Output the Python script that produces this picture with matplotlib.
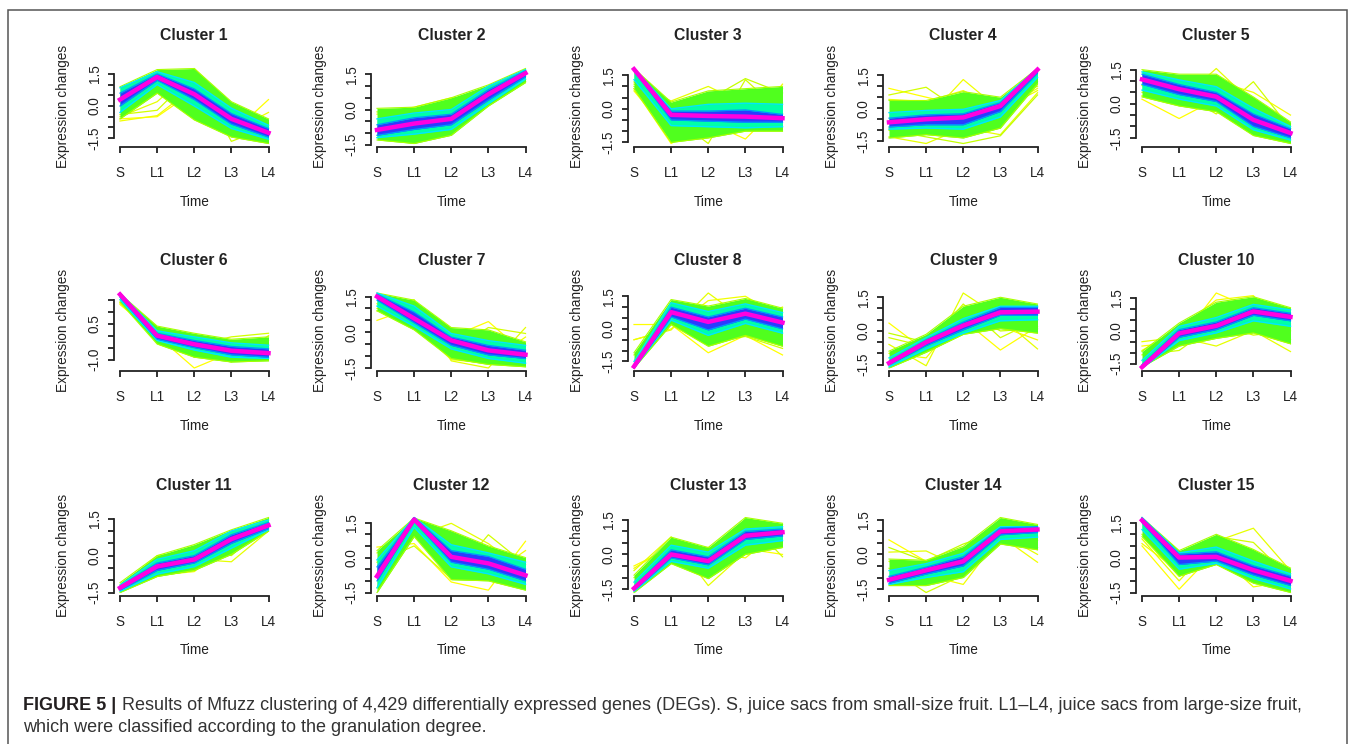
import matplotlib
matplotlib.use('Agg')
import matplotlib.pyplot as plt
from matplotlib.patches import Rectangle

plt.rcParams['font.family'] = ['Liberation Sans', 'DejaVu Sans']

# ---------------- data ----------------
time_labels = ['S', 'L1', 'L2', 'L3', 'L4']
time_pos = [1, 2, 3, 4, 5]
cluster_names = ['Cluster %d' % k for k in range(1, 16)]
y_label = 'Expression changes'
x_label = 'Time'

# each cluster: centroid (magenta), core band (blue), inner band (cyan),
# outer band (green) as [low, high] profiles, and fringe lines (yellow)
c1_center = [0.3, 1.35, 0.55, -0.6, -1.25]
c1_core = [[0.0, 1.2, 0.3, -0.85, -1.45], [0.6, 1.5, 0.8, -0.35, -1.05]]
c1_inner = [[-0.3, 1.0, 0.0, -1.05, -1.55], [0.85, 1.6, 1.1, -0.1, -0.9]]
c1_outer = [[-0.6, 0.6, -0.65, -1.45, -1.75], [0.9, 1.7, 1.75, 0.2, -0.6]]
c1_fringe = [[-0.6, -0.5, 0.7, -1.3, 0.3], [-0.5, 0.2, 1.75, 0.05, -0.8],
             [-0.4, -0.2, 1.5, -1.65, -1.0], [-0.7, -0.45, 0.9, -1.2, -0.3]]

c2_center = [-0.87, -0.6, -0.4, 0.65, 1.55]
c2_core = [[-1.1, -0.85, -0.65, 0.4, 1.4], [-0.65, -0.35, -0.2, 0.85, 1.65]]
c2_inner = [[-1.2, -1.05, -0.85, 0.25, 1.3], [-0.4, -0.15, 0.0, 1.0, 1.7]]
c2_outer = [[-1.3, -1.45, -1.1, 0.15, 1.15], [0.05, 0.1, 0.5, 1.05, 1.75]]
c2_fringe = [[-0.2, 0.1, 0.5, 0.55, 1.3], [-1.2, -1.45, -0.9, 0.3, 1.2],
             [-0.1, -0.3, 0.45, 0.6, 1.2]]

c3_center = [1.77, -0.27, -0.32, -0.35, -0.42]
c3_core = [[1.7, -0.5, -0.55, -0.6, -0.6], [1.8, -0.1, -0.1, -0.05, -0.25]]
c3_inner = [[1.3, -0.75, -0.8, -0.85, -0.8], [1.8, 0.0, 0.2, 0.25, 0.2]]
c3_outer = [[0.9, -1.5, -1.3, -1.0, -1.0], [1.8, 0.3, 0.8, 0.9, 1.0]]
c3_fringe = [[0.9, -1.55, -0.6, -1.35, 0.3], [1.1, 0.35, 1.0, 0.2, 0.9],
             [1.2, -0.3, -1.55, 1.3, -0.2], [0.8, -1.2, -0.9, -0.9, 1.1],
             [1.0, -0.1, 0.4, 1.35, 0.7]]

c4_center = [-0.64, -0.5, -0.42, 0.1, 1.75]
c4_core = [[-0.85, -0.75, -0.75, -0.15, 1.6], [-0.45, -0.3, -0.25, 0.25, 1.8]]
c4_inner = [[-0.95, -0.9, -0.95, -0.4, 1.4], [-0.2, -0.1, -0.05, 0.35, 1.8]]
c4_outer = [[-1.35, -1.2, -1.35, -0.9, 1.1], [0.35, 0.35, 0.75, 0.5, 1.8]]
c4_fringe = [[0.9, 0.5, 0.1, 0.0, 1.2], [-1.3, -1.6, -0.9, -1.2, 0.7],
             [0.6, 0.95, -0.2, 0.2, 1.0], [-0.9, -0.5, 1.3, -0.1, 0.8],
             [-1.0, -1.3, -1.6, -1.25, 0.6], [0.4, 0.3, 0.8, -0.05, 0.9]]

c5_center = [1.07, 0.64, 0.31, -0.71, -1.29]
c5_core = [[0.85, 0.4, 0.1, -1.0, -1.5], [1.3, 0.85, 0.5, -0.45, -1.1]]
c5_inner = [[0.6, 0.2, -0.1, -1.15, -1.6], [1.4, 1.05, 0.75, -0.2, -1.0]]
c5_outer = [[0.3, -0.1, -0.35, -1.4, -1.75], [1.5, 1.3, 1.3, 0.3, -0.8]]
c5_fringe = [[0.2, -0.65, 0.2, -0.2, -0.9], [0.5, 0.1, 1.55, 0.0, -1.4],
             [0.8, 0.5, -0.45, 0.97, -1.1], [0.35, 0.0, 1.0, 0.5, -0.5]]

c6_center = [1.72, 0.0, -0.36, -0.63, -0.73]
c6_core = [[1.6, -0.15, -0.5, -0.8, -0.9], [1.78, 0.1, -0.2, -0.45, -0.55]]
c6_inner = [[1.5, -0.2, -0.6, -0.9, -0.95], [1.78, 0.2, -0.05, -0.3, -0.4]]
c6_outer = [[1.4, -0.35, -0.9, -1.1, -1.05], [1.75, 0.4, 0.1, -0.15, -0.05]]
c6_fringe = [[1.3, 0.0, -1.35, -0.7, -0.5], [1.4, 0.2, -0.7, -1.1, 0.0],
             [1.5, -0.1, -0.4, -0.05, 0.1], [1.35, 0.3, -0.9, -0.9, -0.2]]

c7_center = [1.5, 0.58, -0.34, -0.76, -0.94]
c7_core = [[1.35, 0.4, -0.55, -0.95, -1.1], [1.6, 0.85, -0.2, -0.55, -0.75]]
c7_inner = [[1.1, 0.25, -0.7, -1.1, -1.3], [1.65, 1.1, -0.05, -0.35, -0.55]]
c7_outer = [[0.9, 0.1, -1.1, -1.35, -1.45], [1.65, 1.35, 0.2, 0.1, -0.4]]
c7_fringe = [[0.5, 1.05, -0.2, 0.45, -0.9], [0.9, 1.37, -1.2, -1.5, 0.2],
             [1.0, 1.0, -0.8, 0.2, -0.05], [1.2, 0.3, -1.15, -1.3, -0.2]]

c8_center = [-1.73, 0.77, 0.32, 0.7, 0.29]
c8_core = [[-1.8, 0.55, -0.05, 0.45, 0.0], [-1.65, 1.0, 0.55, 0.95, 0.55]]
c8_inner = [[-1.8, 0.4, -0.3, 0.25, -0.2], [-1.5, 1.2, 0.8, 1.15, 0.75]]
c8_outer = [[-1.8, 0.2, -0.8, -0.3, -0.8], [-1.1, 1.35, 1.05, 1.4, 0.95]]
c8_fringe = [[0.2, 0.2, -1.1, -0.3, -1.2], [-0.5, -0.05, 1.65, 0.4, 1.0],
             [-1.2, 0.5, -0.6, -0.35, -0.9], [-0.5, 0.0, 1.3, 1.5, 0.5]]

c9_center = [-1.43, -0.5, 0.24, 0.83, 0.86]
c9_core = [[-1.5, -0.65, 0.05, 0.7, 0.7], [-1.35, -0.4, 0.4, 1.05, 1.05]]
c9_inner = [[-1.6, -0.8, -0.1, 0.45, 0.5], [-1.2, -0.3, 0.55, 1.1, 1.1]]
c9_outer = [[-1.65, -0.95, -0.15, 0.1, -0.1], [-0.9, -0.15, 1.1, 1.5, 1.2]]
c9_fringe = [[0.35, -0.9, 0.5, -0.85, 0.2], [-0.6, -1.55, 1.69, 0.6, -0.8],
             [-0.3, -0.7, 1.2, -0.3, 0.5], [-1.0, -1.2, 0.8, 0.2, -0.4],
             [-0.1, -0.5, 0.9, 0.0, 0.1]]

c10_center = [-1.66, -0.12, 0.22, 0.88, 0.63]
c10_core = [[-1.7, -0.3, 0.05, 0.7, 0.45], [-1.55, 0.05, 0.4, 1.05, 0.8]]
c10_inner = [[-1.7, -0.45, -0.1, 0.45, 0.2], [-1.35, 0.2, 0.6, 1.2, 0.95]]
c10_outer = [[-1.65, -0.7, -0.35, -0.1, -0.6], [-0.95, 0.35, 1.3, 1.55, 1.05]]
c10_fringe = [[-0.7, -0.5, 1.72, 1.0, 0.3], [-0.5, -0.3, -0.7, 0.0, -0.95],
              [-1.1, -0.9, 0.3, -0.2, 0.0], [-0.9, 0.1, 1.4, 1.6, -0.4]]

c11_center = [-1.31, -0.44, -0.16, 0.67, 1.23]
c11_core = [[-1.4, -0.6, -0.3, 0.5, 1.1], [-1.25, -0.3, 0.0, 0.85, 1.35]]
c11_inner = [[-1.45, -0.75, -0.45, 0.3, 1.05], [-1.2, -0.15, 0.2, 1.0, 1.45]]
c11_outer = [[-1.5, -0.85, -0.6, 0.05, 1.0], [-1.1, 0.0, 0.45, 1.05, 1.55]]
c11_fringe = [[-1.3, 0.0, 0.15, 0.2, 1.5], [-1.35, -0.4, -0.15, -0.25, 1.0],
              [-1.2, -0.2, 0.35, 0.0, 1.3], [-1.4, -0.8, -0.65, 0.5, 1.3]]

c12_center = [-0.8, 1.64, 0.03, -0.25, -0.76]
c12_core = [[-1.0, 1.55, -0.2, -0.5, -1.0], [-0.4, 1.72, 0.3, 0.05, -0.5]]
c12_inner = [[-1.3, 1.3, -0.4, -0.7, -1.15], [-0.1, 1.72, 0.55, 0.2, -0.2]]
c12_outer = [[-1.5, 0.9, -0.95, -1.0, -1.4], [0.3, 1.7, 1.15, 0.5, 0.0]]
c12_fringe = [[0.45, 0.6, -1.05, -1.4, 0.7], [0.2, 0.9, 1.47, 0.6, -0.6],
              [-0.2, 0.5, -0.9, 0.98, -0.3], [-1.3, 1.2, -0.8, -0.8, 0.3]]

c13_center = [-1.47, 0.0, -0.29, 0.81, 0.96]
c13_core = [[-1.55, -0.15, -0.45, 0.65, 0.8], [-1.4, 0.2, -0.1, 1.0, 1.1]]
c13_inner = [[-1.6, -0.3, -0.6, 0.4, 0.6], [-1.2, 0.4, 0.1, 1.1, 1.2]]
c13_outer = [[-1.65, -0.4, -1.05, 0.0, 0.3], [-0.9, 0.75, 0.3, 1.6, 1.35]]
c13_fringe = [[-0.5, 0.3, 0.3, 0.25, 0.0], [-0.7, 0.76, -1.35, 0.1, 1.3],
              [-1.0, -0.2, -1.0, 1.55, -0.1], [-0.6, 0.4, 0.1, -0.15, 1.1]]

c14_center = [-1.1, -0.69, -0.3, 1.0, 1.08]
c14_core = [[-1.25, -0.85, -0.5, 0.85, 0.95], [-0.95, -0.55, -0.1, 1.15, 1.2]]
c14_inner = [[-1.3, -1.0, -0.75, 0.65, 0.75], [-0.7, -0.4, 0.05, 1.2, 1.2]]
c14_outer = [[-1.35, -1.35, -1.0, 0.45, 0.2], [-0.2, -0.25, 0.35, 1.6, 1.3]]
c14_fringe = [[0.63, -0.3, -0.3, 0.7, 0.8], [0.1, 0.15, -0.6, 0.9, 0.0],
              [-0.6, -1.65, -0.9, 1.2, 0.6], [-0.3, -0.9, -1.3, 0.8, -0.34],
              [0.3, -0.3, 0.45, 1.0, 0.3]]

c15_center = [1.6, 0.0, 0.03, -0.54, -1.0]
c15_core = [[1.5, -0.3, -0.15, -0.75, -1.2], [1.7, 0.15, 0.25, -0.35, -0.8]]
c15_inner = [[1.2, -0.5, -0.25, -0.9, -1.35], [1.72, 0.2, 0.45, -0.15, -0.7]]
c15_outer = [[0.9, -0.8, -0.3, -1.1, -1.5], [1.72, 0.3, 1.0, 0.35, -0.45]]
c15_fringe = [[0.5, -1.36, 0.3, 0.2, -0.6], [0.8, -1.0, 0.7, 1.26, -0.57],
              [1.0, -0.8, 0.9, 0.65, -0.9], [0.6, -0.6, 0.2, -1.26, -1.0]]

clusters = [
    (c1_center, c1_core, c1_inner, c1_outer, c1_fringe),
    (c2_center, c2_core, c2_inner, c2_outer, c2_fringe),
    (c3_center, c3_core, c3_inner, c3_outer, c3_fringe),
    (c4_center, c4_core, c4_inner, c4_outer, c4_fringe),
    (c5_center, c5_core, c5_inner, c5_outer, c5_fringe),
    (c6_center, c6_core, c6_inner, c6_outer, c6_fringe),
    (c7_center, c7_core, c7_inner, c7_outer, c7_fringe),
    (c8_center, c8_core, c8_inner, c8_outer, c8_fringe),
    (c9_center, c9_core, c9_inner, c9_outer, c9_fringe),
    (c10_center, c10_core, c10_inner, c10_outer, c10_fringe),
    (c11_center, c11_core, c11_inner, c11_outer, c11_fringe),
    (c12_center, c12_core, c12_inner, c12_outer, c12_fringe),
    (c13_center, c13_core, c13_inner, c13_outer, c13_fringe),
    (c14_center, c14_core, c14_inner, c14_outer, c14_fringe),
    (c15_center, c15_core, c15_inner, c15_outer, c15_fringe),
]

caption_bold = 'FIGURE 5 |'
caption_line1 = ('Results of Mfuzz clustering of 4,429 differentially expressed genes (DEGs). '
                 'S, juice sacs from small-size fruit. L1\u2013L4, juice sacs from large-size fruit,')
caption_line2 = 'which were classified according to the granulation degree.'

# ---------------- layout / style ----------------
W, H = 1355, 744
fig = plt.figure(figsize=(W / 100, H / 100), dpi=100)
fig.patch.set_facecolor('white')

col_S = [120, 377, 634, 889, 1142]      # pixel x of "S" tick per column
row_base = [146.5, 371, 595.5]           # pixel y of x-axis line per row
unit_px = 148.5 / 4
region_h = 81

fringe_cols = ['#FFFF00', '#E6FF00', '#D2FF00', '#F2FF00', '#C4FF00', '#EEFF10']
outer_fill, outer_edge = '#50FF1E', '#A8FF00'
inner_fill, inner_edge = '#00FFA8', '#00E6FF'
core_fill, core_edge = '#2A3CFF', '#0096FF'
center_col = '#FF00E0'

axis_col = '#222222'
fs_tick = 9.8
fs_title = 11.3


def ticks_in(lo, hi, step=0.5):
    import math
    k0 = math.ceil(lo / step - 1e-9)
    k1 = math.floor(hi / step + 1e-9)
    return [k * step for k in range(k0, k1 + 1)]


for i, (center, core, inner, outer, fringe) in enumerate(clusters):
    r, c = divmod(i, 5)
    left = col_S[c] - 0.16 * unit_px
    width = 4.32 * unit_px
    base = row_base[r]
    ax = fig.add_axes([left / W, 1 - base / H, width / W, region_h / H])

    # R-style range: data range expanded by 4 %
    vals = center + core[0] + core[1] + inner[0] + inner[1] + outer[0] + outer[1]
    for f in fringe:
        vals = vals + f
    mn, mx = min(vals), max(vals)
    pad = 0.04 * (mx - mn)
    ax.set_xlim(1 - 0.16, 5 + 0.16)
    ax.set_ylim(mn - pad, mx + pad)

    for j, f in enumerate(fringe):
        ax.plot(time_pos, f, color=fringe_cols[j % len(fringe_cols)], lw=0.9, zorder=1)
    ax.fill_between(time_pos, outer[0], outer[1], color=outer_fill, lw=0, zorder=2)
    ax.plot(time_pos, outer[0], color=outer_edge, lw=0.8, zorder=2)
    ax.plot(time_pos, outer[1], color=outer_edge, lw=0.8, zorder=2)
    ax.fill_between(time_pos, inner[0], inner[1], color=inner_fill, lw=0, zorder=3)
    ax.plot(time_pos, inner[0], color=inner_edge, lw=1.0, zorder=3)
    ax.plot(time_pos, inner[1], color=inner_edge, lw=1.0, zorder=3)
    ax.fill_between(time_pos, core[0], core[1], color=core_fill, lw=0, zorder=4)
    ax.plot(time_pos, core[0], color=core_edge, lw=0.9, zorder=4)
    ax.plot(time_pos, core[1], color=core_edge, lw=0.9, zorder=4)
    ax.plot(time_pos, center, color=center_col, lw=3.2, zorder=5,
            solid_joinstyle='round')

    # axes like R base graphics
    for s in ('top', 'right'):
        ax.spines[s].set_visible(False)
    yt = ticks_in(mn - pad, mx + pad)
    ax.spines['left'].set_bounds(yt[0], yt[-1])
    ax.spines['bottom'].set_bounds(1, 5)
    for s in ('left', 'bottom'):
        ax.spines[s].set_linewidth(1.3)
        ax.spines[s].set_color(axis_col)
    ax.set_xticks(time_pos)
    ax.set_xticklabels(time_labels)
    ax.set_yticks(yt)
    ax.set_yticklabels(['%.1f' % v if k % 3 == 0 else '' for k, v in enumerate(yt)])
    ax.tick_params(axis='both', direction='out', length=4.5, width=1.3,
                   color=axis_col, labelsize=fs_tick, labelcolor='#222222')
    ax.tick_params(axis='x', pad=9.5)
    ax.tick_params(axis='y', pad=4.5)
    for lab in ax.get_yticklabels():
        lab.set_rotation(90)
        lab.set_va('center')
    ax.patch.set_alpha(0)

    cx = left + width / 2
    fig.text(cx / W, 1 - (base - 110.5) / H, cluster_names[i], ha='center', va='center',
             fontsize=fs_title, fontweight='bold', color='#222222')
    fig.text(cx / W, 1 - (base + 55) / H, x_label, ha='center', va='center',
             fontsize=fs_tick, color='#222222')
    fig.text((col_S[c] - 57) / W, 1 - (base - region_h / 2) / H, y_label,
             ha='center', va='center', rotation=90, fontsize=fs_tick, color='#222222')

# frame around the figure
fig.patches.append(Rectangle((8 / W, -0.02), (1347 - 8) / W, 1 - 10 / H + 0.02,
                             transform=fig.transFigure, fill=False,
                             edgecolor='#555555', lw=1.1))

# caption, scaled to span the measured width
renderer = fig.canvas.get_renderer()
fs_cap = 12.0
tb = fig.text(23 / W, 1 - 706 / H, caption_bold, ha='left', va='center',
              fontsize=fs_cap, fontweight='bold', color='#231F20')
bb = tb.get_window_extent(renderer)
t1 = fig.text((bb.x1 + 5) / W, 1 - 706 / H, caption_line1, ha='left', va='center',
              fontsize=fs_cap, color='#333333')
b1 = t1.get_window_extent(renderer)
scale = (1297 - 23) / (b1.x1 - 23)
fs_cap = fs_cap * scale
tb.set_fontsize(fs_cap)
bb = tb.get_window_extent(renderer)
t1.set_fontsize(fs_cap)
t1.set_x((bb.x1 + 5 * scale) / W)
fig.text(23 / W, 1 - 728 / H, caption_line2, ha='left', va='center',
         fontsize=fs_cap, color='#333333')

fig.savefig('out.png', dpi=100)
